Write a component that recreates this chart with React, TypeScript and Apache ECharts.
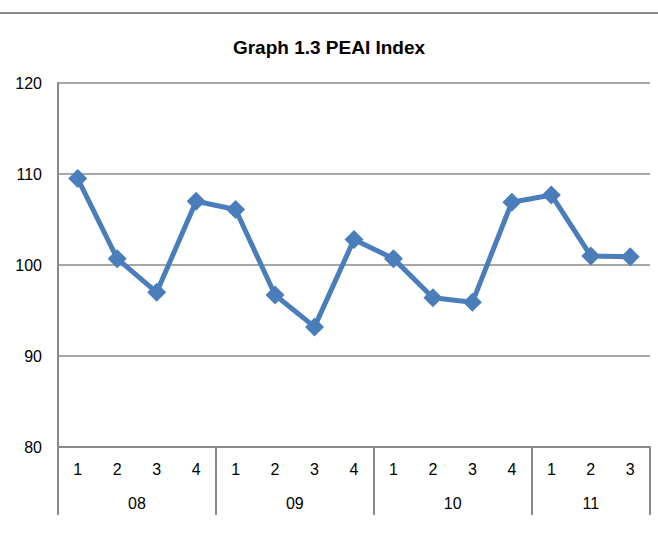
import React, { useEffect, useRef } from "react";
import * as echarts from "echarts";

const quarters = ["1", "2", "3", "4", "1", "2", "3", "4", "1", "2", "3", "4", "1", "2", "3"];
const years = ["08", "09", "10", "11"];
const quartersPerYear = [4, 4, 4, 3];
const peai = [109.5, 100.7, 97.0, 107.0, 106.1, 96.7, 93.2, 102.8, 100.7, 96.4, 95.9, 106.9, 107.7, 101.0, 100.9];
const yTicks = { min: 80, max: 120, interval: 10 };

const FONT = "'Liberation Sans', Arial, sans-serif";
const GRAY = "#8a8a8a";

export default function App() {
  const ref = useRef<HTMLDivElement>(null);
  useEffect(() => {
    if (!ref.current) return;
    const chart = echarts.init(ref.current, undefined, { renderer: "svg" });

    const boundaries: number[] = [0];
    const centers: number[] = [];
    let acc = 0;
    quartersPerYear.forEach((n) => {
      centers.push(acc + n / 2);
      acc += n;
      boundaries.push(acc);
    });
    const total = acc;

    chart.setOption({
      animation: false,
      backgroundColor: "#ffffff",
      title: {
        text: "Graph 1.3 PEAI Index",
        left: "center",
        top: 33,
        textStyle: { fontFamily: FONT, fontWeight: "bold", fontSize: 19, color: "#000" },
      },
      graphic: [
        {
          type: "line",
          shape: { x1: 0, y1: 13, x2: 658, y2: 13 },
          style: { stroke: GRAY, lineWidth: 2 },
        },
      ],
      grid: { left: 58, right: 8, top: 83, bottom: 89, containLabel: false },
      xAxis: [
        {
          type: "category",
          data: quarters,
          boundaryGap: true,
          axisLine: { show: true, lineStyle: { color: GRAY, width: 2 } },
          axisTick: { show: false },
          axisLabel: { margin: 14, fontFamily: FONT, fontSize: 16, color: "#000", interval: 0 },
          splitLine: { show: false },
        },
        {
          type: "value",
          position: "bottom",
          min: 0,
          max: total,
          axisLine: { show: false },
          axisTick: {
            show: true,
            length: 68,
            customValues: boundaries,
            lineStyle: { color: GRAY, width: 2 },
          },
          axisLabel: {
            show: true,
            customValues: centers,
            margin: 48,
            fontFamily: FONT,
            fontSize: 16,
            color: "#000",
            formatter: (v: number) => {
              const i = centers.findIndex((c) => Math.abs(c - v) < 1e-6);
              return i >= 0 ? years[i] : "";
            },
          },
          splitLine: { show: false },
        },
      ],
      yAxis: {
        type: "value",
        min: yTicks.min,
        max: yTicks.max,
        interval: yTicks.interval,
        axisLine: { show: true, lineStyle: { color: GRAY, width: 2 } },
        axisTick: { show: false },
        axisLabel: { margin: 16, fontFamily: FONT, fontSize: 16, color: "#000" },
        splitLine: { show: true, lineStyle: { color: GRAY, width: 1.5 } },
      },
      series: [
        {
          type: "line",
          xAxisIndex: 0,
          data: peai,
          symbol: "diamond",
          symbolSize: 19,
          lineStyle: { color: "#4a7ebb", width: 5 },
          itemStyle: { color: "#4a7ebb" },
        },
      ],
    });
    return () => chart.dispose();
  }, []);
  return (
    <div
      ref={ref}
      style={{ position: "fixed", left: 0, top: 0, width: 658, height: 536, background: "#fff" }}
    />
  );
}
